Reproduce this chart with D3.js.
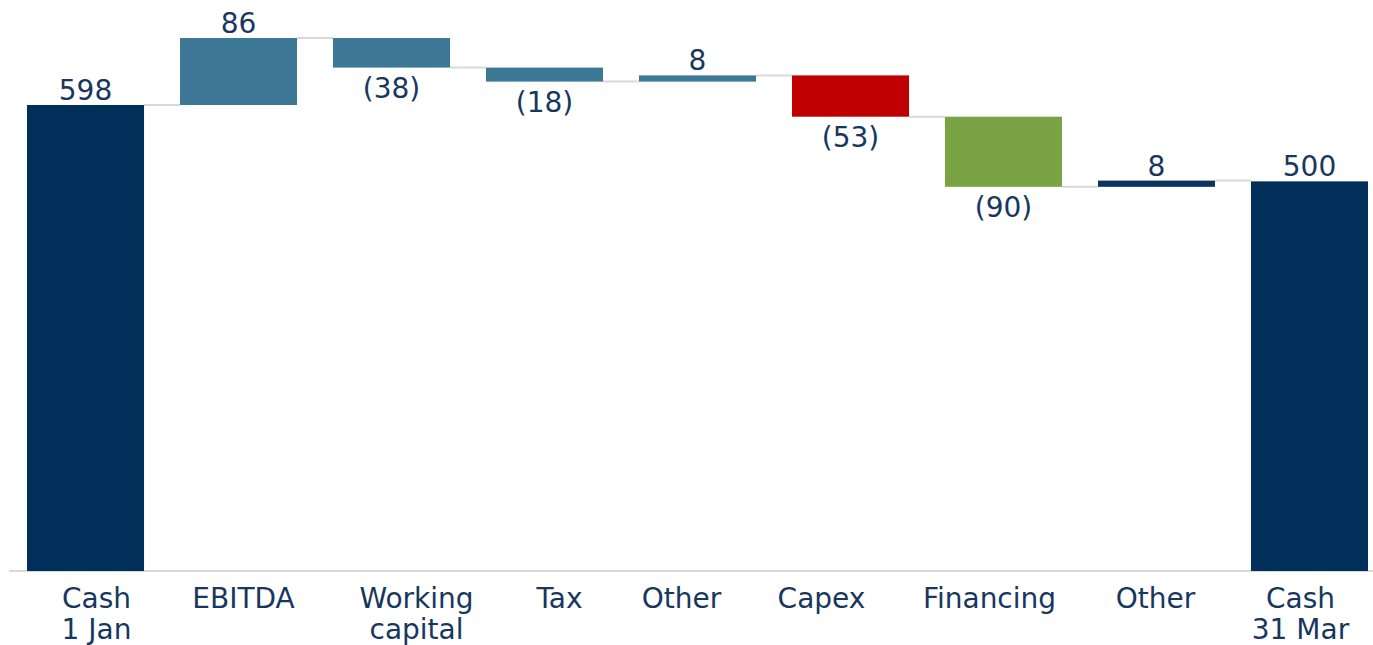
<!DOCTYPE html>
<html>
<head>
<meta charset="utf-8">
<script src="https://cdn.jsdelivr.net/npm/d3@7"></script>
<style>
  body { margin: 0; background: #fff; }
  text { font-family: "DejaVu Sans", Verdana, sans-serif; }
</style>
</head>
<body>
<div id="chart"></div>
<script>
// waterfall data
const categories = ["Cash\n1 Jan", "EBITDA", "Working\ncapital", "Tax", "Other", "Capex", "Financing", "Other", "Cash\n31 Mar"];
const values = [598, 86, -38, -18, 8, -53, -90, 8, 500];
const kinds = ["total", "delta", "delta", "delta", "delta", "delta", "delta", "delta", "total"];
const colors = ["#00305a", "#3d7897", "#3d7897", "#3d7897", "#3d7897", "#c00000", "#7aa444", "#0b3560", "#00305a"];

const width = 1373, height = 645;
// the category labels sit in their own text boxes, not quite centred under the bars
const labelShift = [11, 5, 25, 15, -16, -29, -14, -1, -9];

const svg = d3.select("#chart").append("svg")
    .attr("width", width)
    .attr("height", height);

// running totals
let run = 0;
const bars = categories.map((c, i) => {
    let y0, y1;
    if (kinds[i] === "total") {
        y0 = 0; y1 = values[i]; run = values[i];
    } else {
        y0 = run; y1 = run + values[i]; run = y1;
    }
    return { id: i, cat: c, v: values[i], y0: y0, y1: y1, end: run, color: colors[i] };
});

const x = d3.scaleBand()
    .domain(bars.map(d => d.id))
    .range([27, 1368])
    .paddingInner(0.235)
    .paddingOuter(0);

const y = d3.scaleLinear()
    .domain([0, 598])
    .range([571, 105]);

// baseline
svg.append("line")
    .attr("x1", 9).attr("x2", width)
    .attr("y1", y(0)).attr("y2", y(0))
    .attr("stroke", "#d9d9d9")
    .attr("stroke-width", 2);

// connectors
svg.selectAll(".conn")
    .data(bars.slice(0, -1))
    .enter().append("line")
    .attr("class", "conn")
    .attr("x1", d => x(d.id) + x.bandwidth())
    .attr("x2", d => x(d.id + 1))
    .attr("y1", d => y(d.end))
    .attr("y2", d => y(d.end))
    .attr("stroke", "#d9d9d9")
    .attr("stroke-width", 2);

// bars
svg.selectAll(".bar")
    .data(bars)
    .enter().append("rect")
    .attr("class", "bar")
    .attr("x", d => x(d.id))
    .attr("width", x.bandwidth())
    .attr("y", d => y(Math.max(d.y0, d.y1)))
    .attr("height", d => Math.abs(y(d.y0) - y(d.y1)))
    .attr("fill", d => d.color);

// value labels
const fmt = v => v < 0 ? "(" + Math.abs(v) + ")" : String(v);
svg.selectAll(".val")
    .data(bars)
    .enter().append("text")
    .attr("class", "val")
    .attr("x", d => x(d.id) + x.bandwidth() / 2)
    .attr("y", d => d.v < 0 ? y(Math.min(d.y0, d.y1)) + 30 : y(Math.max(d.y0, d.y1)) - 5)
    .attr("text-anchor", "middle")
    .attr("font-size", "28px")
    .attr("fill", "#17375e")
    .text(d => fmt(d.v));

// category labels
const cat = svg.selectAll(".cat")
    .data(bars)
    .enter().append("text")
    .attr("class", "cat")
    .attr("text-anchor", "middle")
    .attr("font-size", "28px")
    .attr("fill", "#17375e");

cat.selectAll("tspan")
    .data(d => d.cat.split("\n").map((s, k) => ({ s: s, k: k, xc: x(d.id) + x.bandwidth() / 2 + labelShift[d.id] })))
    .enter().append("tspan")
    .attr("x", t => t.xc)
    .attr("y", t => 608 + t.k * 31)
    .text(t => t.s);
</script>
</body>
</html>
